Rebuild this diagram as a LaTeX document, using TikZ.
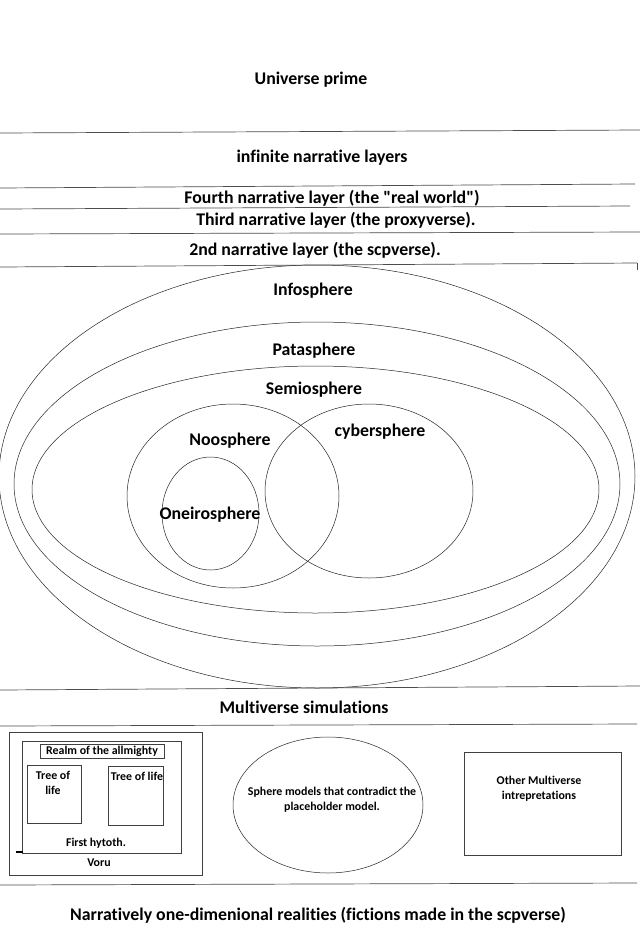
\documentclass[tikz,border=0pt]{standalone}
\usepackage{fontspec}
\setmainfont{Carlito}[Ligatures={NoCommon,TeXOff}]
\begin{document}
\begin{tikzpicture}[x=1pt,y=-1pt,
  big/.style={font=\bfseries\fontsize{17.8}{21}\selectfont, inner sep=0pt},
  small/.style={font=\bfseries\fontsize{11.9}{15}\selectfont, inner sep=0pt, align=center},
  rule/.style={draw=black!70, line width=0.7pt},
  ring/.style={draw=black!85, line width=0.5pt},
  boxl/.style={draw=black!75, line width=0.7pt}]
\useasboundingbox[fill=white] (0,0) rectangle (640,943);
% horizontal layer lines
\draw[rule] (0,133) -- (640,130);
\draw[rule] (0,188) -- (635,184);
\draw[rule] (0,209) -- (630,206);
\draw[rule] (0,234) -- (640,232);
\draw[rule] (0,267) -- (637,263);
\draw[rule] (637,263) -- (637,270);
\draw[rule] (0,690) -- (640,686);
\draw[rule] (0,726) -- (637,724);
\draw[rule] (0,885) -- (637,883);
% layer texts
\node[big] (prime) at (311,80) {Universe prime};
\node[big] (inf) at (322,158) {infinite narrative layers};
\node[big] (fourth) at (332,198) {Fourth narrative layer (the "real world")};
\node[big] (third) at (336,220) {Third narrative layer (the proxyverse).};
\node[big] (second) at (315,250) {2nd narrative layer (the scpverse).};
% spheres
\draw[ring] (317,476.5) ellipse [x radius=318, y radius=211.5];
\draw[ring] (317,484) ellipse [x radius=303, y radius=162];
\draw[ring] (315.5,489.5) ellipse [x radius=283.5, y radius=123.5];
\draw[ring] (233,496) ellipse [x radius=106, y radius=92];
\draw[ring] (369,491) ellipse [x radius=104, y radius=87];
\draw[ring] (210.5,513.5) ellipse [x radius=48.5, y radius=56.5];
\node[big] (info) at (313,291) {Infosphere};
\node[big] (pata) at (314,351) {Patasphere};
\node[big] (semio) at (314,390) {Semiosphere};
\node[big] (noo) at (230,441) {Noosphere};
\node[big] (cyber) at (380,432) {cybersphere};
\node[big] (oneiro) at (210,515) {Oneirosphere};
% multiverse
\node[big] (multi) at (304,707) {Multiverse simulations};
\draw[boxl] (9,732) rectangle (202,875);
\draw[boxl] (22,741) rectangle (181,853);
\node[small, draw=black!75, line width=0.7pt, minimum width=124pt, minimum height=14pt] (realm) at (102,751) {Realm of the allmighty};
\draw[boxl] (27,765) rectangle (81,823);
\node[small, anchor=north] (tree1) at (53,771) {Tree of\\life};
\draw[boxl] (108,766) rectangle (163,825);
\node[small, anchor=north] (tree2) at (137,772) {Tree of life};
\node[small] (hyt) at (96,843) {First hytoth.};
\node[small] (voru) at (99,863) {Voru};
\draw[black, line width=1.5pt] (16,852) -- (23,852);
\draw[ring] (328,805) ellipse [x radius=95, y radius=68];
\node[small] (sphm) at (332,800) {Sphere models that contradict the\\placeholder model.};
\draw[boxl] (464,752) rectangle (621,855);
\node[small] (other) at (539,789) {Other Multiverse\\intrepretations};
\node[big] (narr) at (318,915) {Narratively one-dimenional realities (fictions made in the scpverse)};
\end{tikzpicture}
\end{document}
